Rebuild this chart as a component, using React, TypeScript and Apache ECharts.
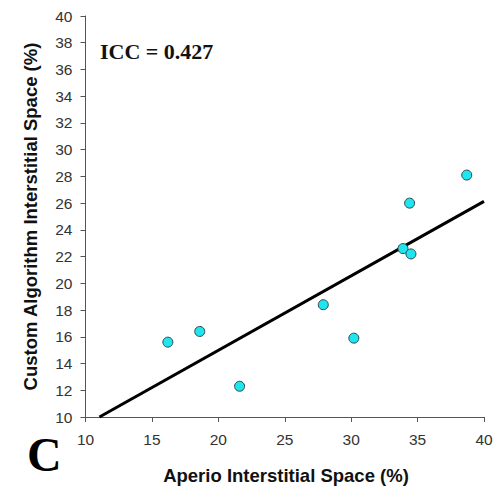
import React, { useEffect, useRef } from "react";
import * as echarts from "echarts";

const aperioX = [16.2, 18.6, 21.6, 27.9, 30.2, 33.9, 34.5, 34.4, 38.7];
const customY = [15.6, 16.4, 12.3, 18.4, 15.9, 22.6, 22.2, 26.0, 28.1];
const fitLineX = [11.05, 40];
const fitLineY = [10, 26.13];
const iccLabel = "ICC = 0.427";
const panelLabel = "C";
const xTitle = "Aperio Interstitial Space (%)";
const yTitle = "Custom Algorithm Interstitial Space (%)";

export default function App() {
  const ref = useRef<HTMLDivElement>(null);
  useEffect(() => {
    if (!ref.current) return;
    const chart = echarts.init(ref.current, null, { renderer: "svg" });
    const axisColor = "#555";
    chart.setOption({
      animation: false,
      backgroundColor: "#fff",
      grid: { left: 85.5, right: 16, top: 16, bottom: 72, containLabel: false },
      xAxis: {
        type: "value",
        min: 10,
        max: 40,
        interval: 5,
        splitLine: { show: false },
        axisLine: { show: true, onZero: false, lineStyle: { color: axisColor, width: 1 } },
        axisTick: { show: true, length: 5, lineStyle: { color: axisColor } },
        axisLabel: { color: "#333", fontSize: 15.5, fontFamily: "Liberation Sans, Arial", margin: 14 },
      },
      yAxis: {
        type: "value",
        min: 10,
        max: 40,
        interval: 2,
        splitLine: { show: false },
        axisLine: { show: true, onZero: false, lineStyle: { color: axisColor, width: 1 } },
        axisTick: { show: true, length: 5, lineStyle: { color: axisColor } },
        axisLabel: { color: "#333", fontSize: 15.5, fontFamily: "Liberation Sans, Arial", margin: 13 },
      },
      series: [
        {
          type: "line",
          data: fitLineX.map((x, i) => [x, fitLineY[i]]),
          symbol: "none",
          lineStyle: { color: "#000", width: 3 },
          silent: true,
          z: 2,
        },
        {
          type: "scatter",
          data: aperioX.map((x, i) => [x, customY[i]]),
          symbolSize: 10,
          itemStyle: { color: "#1fe6ee", borderColor: "#2b4750", borderWidth: 1, opacity: 1 },
          z: 3,
        },
      ],
      graphic: [
        {
          type: "text",
          left: 100,
          top: 40,
          style: {
            text: iccLabel,
            font: "bold 22px 'Liberation Serif', 'Times New Roman', serif",
            fill: "#111",
          },
        },
        {
          type: "text",
          left: 27,
          top: 430,
          style: {
            text: panelLabel,
            font: "bold 48px 'Liberation Serif', 'Times New Roman', serif",
            fill: "#000",
          },
        },
        {
          type: "text",
          x: 286,
          y: 475,
          style: {
            text: xTitle,
            font: "bold 18.5px 'Liberation Sans', Arial, sans-serif",
            fill: "#111",
            align: "center",
            verticalAlign: "middle",
          },
        },
        {
          type: "text",
          x: 30,
          y: 216.5,
          rotation: Math.PI / 2,
          style: {
            text: yTitle,
            font: "bold 18.5px 'Liberation Sans', Arial, sans-serif",
            fill: "#111",
            align: "center",
            verticalAlign: "middle",
          },
        },
      ],
    });
    return () => chart.dispose();
  }, []);
  return <div ref={ref} style={{ width: 500, height: 489, position: "absolute", left: 0, top: 0 }} />;
}
